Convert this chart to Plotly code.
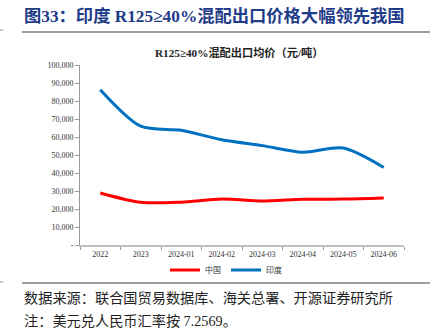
import plotly.graph_objects as go

categories = ["2022", "2023", "2024-01", "2024-02", "2024-03", "2024-04", "2024-05", "2024-06"]
china = [28900, 23700, 23800, 25500, 24400, 25400, 25500, 26100]
india = [86300, 66000, 63700, 58500, 55200, 51500, 53900, 43100]
y_ticks = [0, 10000, 20000, 30000, 40000, 50000, 60000, 70000, 80000, 90000, 100000]
y_labels = ["-"] + [f"{v:,}" for v in y_ticks[1:]]

W, H = 435, 330
L, R, T, B = 80, 31, 65, 85
PW, PH = W - L - R, H - T - B

def px(x):
    return (x - L) / PW

def py(y):
    return (H - B - y) / PH

SERIF = "Liberation Serif, Times New Roman, Noto Sans CJK SC, serif"

fig = go.Figure()
fig.add_trace(go.Scatter(x=categories, y=china, name="中国", mode="lines",
                         line=dict(color="#FF0000", width=3, shape="spline", smoothing=0.8)))
fig.add_trace(go.Scatter(x=categories, y=india, name="印度", mode="lines",
                         line=dict(color="#0070C0", width=3, shape="spline", smoothing=0.8)))

fig.update_layout(
    width=W, height=H,
    margin=dict(l=L, r=R, t=T, b=B),
    paper_bgcolor="white", plot_bgcolor="white",
    font=dict(family=SERIF, size=8, color="#333333"),
    showlegend=True,
    legend=dict(orientation="h", x=px(226), xanchor="center", y=py(270), yanchor="middle",
                font=dict(size=8, family="Noto Sans CJK SC"), itemwidth=30, bgcolor="rgba(0,0,0,0)"),
    xaxis=dict(type="category", range=[-0.5, len(categories) - 0.5], showgrid=False,
               showline=True, linecolor="#BFBFBF", linewidth=2,
               ticks="outside", tickson="boundaries", ticklen=3, tickcolor="#999999",
               tickfont=dict(size=8, family=SERIF, color="#333333")),
    yaxis=dict(range=[0, 100000], tickvals=y_ticks, ticktext=y_labels, showgrid=False,
               showline=True, linecolor="#999999", linewidth=1, ticks="outside", ticklen=4,
               tickcolor="#999999", zeroline=False,
               tickfont=dict(size=8, family=SERIF, color="#333333")),
)

annotations = [
    dict(text="<b>图33：印度 R125≥40%混配出口价格大幅领先我国</b>", x=px(22), y=py(16),
         xanchor="left", yanchor="middle", font=dict(size=17.3, color="#1F3C88", family=SERIF)),
    dict(text="<b>R125≥40%混配出口均价（元/吨）</b>", x=px(239), y=py(52),
         xanchor="center", yanchor="middle", font=dict(size=11.2, color="#222222", family=SERIF)),
    dict(text="数据来源：联合国贸易数据库、海关总署、开源证券研究所", x=px(22), y=py(298),
         xanchor="left", yanchor="middle", font=dict(size=14.2, color="#222222", family=SERIF)),
    dict(text="注：美元兑人民币汇率按 7.2569。", x=px(22), y=py(321),
         xanchor="left", yanchor="middle", font=dict(size=14.2, color="#222222", family=SERIF)),
]
for a in annotations:
    a.update(xref="paper", yref="paper", showarrow=False)
fig.update_layout(annotations=annotations)

shapes = [
    dict(type="line", x0=px(22), x1=px(430), y0=py(32), y1=py(32), line=dict(color="#7F7F7F", width=1.5)),
    dict(type="line", x0=px(22), x1=px(430), y0=py(283), y1=py(283), line=dict(color="#7F7F7F", width=1.5)),
    dict(type="line", x0=px(0), x1=px(3), y0=py(30), y1=py(30), line=dict(color="#999999", width=1)),
    dict(type="line", x0=px(0), x1=px(3), y0=py(282), y1=py(282), line=dict(color="#999999", width=1)),
]
for s in shapes:
    s.update(xref="paper", yref="paper")
fig.update_layout(shapes=shapes)

fig.write_html("out.html")
